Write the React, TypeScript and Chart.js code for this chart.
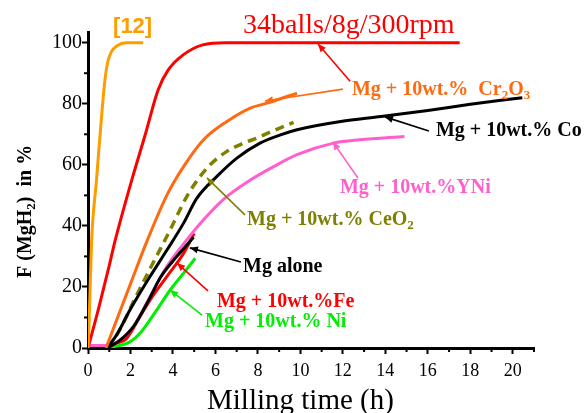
import React, { useEffect, useRef } from 'react';
import { Chart, registerables } from 'chart.js';

Chart.register(...registerables);

// ---------- data ----------
const xTickValues = [0, 2, 4, 6, 8, 10, 12, 14, 16, 18, 20];
const yTickValues = [0, 20, 40, 60, 80, 100];

const ref12X = [0, 0.05, 0.17, 0.4, 0.57, 0.8, 0.94, 1.1, 1.37, 1.8, 2.6];
const ref12Y = [0, 8, 35, 55, 70, 88, 94, 97, 99, 100, 100];

const balls34X = [0, 0.5, 1, 1.27, 2.06, 2.7, 3.3, 3.77, 4.48, 5.4, 6.5, 10, 17.5];
const balls34Y = [0, 13, 27, 35, 55, 70, 84.5, 91, 96, 99.3, 100, 100, 100];

const cr2o3X = [0.85, 1.12, 2, 2.8, 3.71, 4.5, 5.44, 6.54, 7.64, 8.43, 9.84];
const cr2o3Y = [0, 5, 21, 35.4, 50, 59.4, 68.2, 74.2, 78.6, 80.2, 83.5];

const ceo2X = [0.95, 1.5, 2.2, 3.0, 3.87, 4.65, 5.28, 5.75, 6.54, 7.33, 7.96, 8.74, 9.68];
const ceo2Y = [0, 6, 16, 27, 38.7, 49.6, 56.2, 60, 64.4, 67.1, 68.8, 71.2, 73.9];

const coX = [0.9, 1.35, 1.98, 2.92, 3.71, 4.5, 5.12, 6.07, 7.01, 8.1, 9.06, 9.84, 11.9, 13.8, 16, 18, 20.45];
const coY = [0, 4.3, 12.5, 23.4, 32, 40.9, 49, 56.2, 62.2, 67.1, 69.8, 71.5, 74.2, 75.8, 77.8, 79.8, 82];

const yniX = [0, 0.9, 1.51, 2.14, 2.92, 3.71, 4.65, 5.44, 6.38, 7.64, 8.74, 9.84, 11.56, 12.8, 14.9];
const yniY = [0.8, 0.8, 2.6, 7, 16.8, 26.7, 35.4, 42, 48.7, 55, 59.4, 63.3, 67.1, 68.2, 69.3];

const aloneX = [0.9, 1.5, 2.14, 2.92, 3.4, 4.0, 4.5, 4.97];
const aloneY = [0, 2.5, 7, 16.5, 23, 28.5, 32.5, 36.3];

const feX = [0.9, 1.3, 1.8, 2.45, 2.92, 3.71, 4.5, 5.0];
const feY = [0, 1.5, 3, 10.3, 15.7, 23.4, 31, 37.5];

const niX = [0.9, 1.19, 1.98, 2.45, 3.24, 3.87, 4.5, 5.05];
const niY = [0, 0.4, 2, 4.8, 12.5, 19, 24.5, 29.4];

// ---------- styles ----------
const C_REF = '#ff9c00';
const C_RED = '#ff0000';
const C_CR = '#ff6a10';
const C_OLIVE = '#808000';
const C_BLACK = '#000000';
const C_PINK = '#ff5fcc';
const C_GREEN = '#00ee00';

const SERIF = '"Liberation Serif", "Times New Roman", serif';

function pts(xs: number[], ys: number[]) {
  return xs.map((x, i) => ({ x, y: ys[i] }));
}

// Annotation texts (positions in data units: x in h, y in %)
type Part = [string, boolean];
const labels: { parts: Part[]; x: number; y: number; color: string; font: string }[] = [
  { parts: [['[12]', false]], x: 1.18, y: 103.2, color: C_REF, font: 'bold 22px "Liberation Sans", Arial, sans-serif' },
  { parts: [['34balls/8g/300rpm', false]], x: 7.3, y: 103.2, color: C_RED, font: `28px ${SERIF}` },
  { parts: [['Mg + 10wt.%  Cr', false], ['2', true], ['O', false], ['3', true]], x: 12.43, y: 82.9, color: C_CR, font: `bold 20px ${SERIF}` },
  { parts: [['Mg + 10wt.% Co', false]], x: 16.38, y: 69.3, color: C_BLACK, font: `bold 20px ${SERIF}` },
  { parts: [['Mg + 10wt.%YNi', false]], x: 11.86, y: 50.8, color: C_PINK, font: `bold 20px ${SERIF}` },
  { parts: [['Mg + 10wt.% CeO', false], ['2', true]], x: 7.49, y: 40.3, color: C_OLIVE, font: `bold 20px ${SERIF}` },
  { parts: [['Mg alone', false]], x: 7.3, y: 24.9, color: C_BLACK, font: `bold 20px ${SERIF}` },
  { parts: [['Mg + 10wt.%Fe', false]], x: 6.07, y: 13.4, color: C_RED, font: `bold 20px ${SERIF}` },
  { parts: [['Mg + 10wt.% Ni', false]], x: 5.51, y: 6.9, color: C_GREEN, font: `bold 20px ${SERIF}` },
];

const arrows: { from: [number, number]; to: [number, number]; color: string }[] = [
  { from: [12.34, 87.4], to: [10.83, 99.6], color: C_RED },
  { from: [12.0, 84.8], to: [8.33, 80.9], color: C_CR },
  { from: [16.05, 71.1], to: [13.98, 75.7], color: C_BLACK },
  { from: [12.71, 55.7], to: [11.53, 67.5], color: C_PINK },
  { from: [7.39, 43.6], to: [5.6, 55.7], color: C_OLIVE },
  { from: [7.2, 28.2], to: [4.8, 32.8], color: C_BLACK },
  { from: [5.65, 18.7], to: [4.19, 27.8], color: C_RED },
  { from: [5.37, 10.8], to: [3.86, 19.0], color: C_GREEN },
];

const X_TITLE = 'Milling time (h)';
const Y_TITLE: Part[] = [['F (MgH', false], ['2', true], [')  in %', false]];

function drawRich(ctx: CanvasRenderingContext2D, parts: Part[], x: number, y: number, font: string) {
  const m = font.match(/(\d+)px/);
  const size = m ? parseInt(m[1], 10) : 20;
  const subFont = font.replace(/\d+px/, Math.round(size * 0.65) + 'px');
  let cx = x;
  for (const [t, sub] of parts) {
    ctx.font = sub ? subFont : font;
    ctx.fillText(t, cx, sub ? y + size * 0.22 : y);
    cx += ctx.measureText(t).width;
  }
}

const annotPlugin = {
  id: 'annot',
  afterDraw(chart: any) {
    const ctx: CanvasRenderingContext2D = chart.ctx;
    const xs = chart.scales.x;
    const ys = chart.scales.y;
    const area = chart.chartArea;
    ctx.save();
    // minor ticks
    ctx.strokeStyle = '#000';
    ctx.lineWidth = 2;
    for (let v = 1; v <= 21; v += 2) {
      const px = xs.getPixelForValue(v);
      ctx.beginPath();
      ctx.moveTo(px, area.bottom);
      ctx.lineTo(px, area.bottom + 4);
      ctx.stroke();
    }
    for (let v = 10; v <= 90; v += 20) {
      const py = ys.getPixelForValue(v);
      ctx.beginPath();
      ctx.moveTo(area.left, py);
      ctx.lineTo(area.left - 4, py);
      ctx.stroke();
    }
    // arrows
    for (const a of arrows) {
      const x1 = xs.getPixelForValue(a.from[0]);
      const y1 = ys.getPixelForValue(a.from[1]);
      const x2 = xs.getPixelForValue(a.to[0]);
      const y2 = ys.getPixelForValue(a.to[1]);
      ctx.strokeStyle = a.color;
      ctx.fillStyle = a.color;
      ctx.lineWidth = 1.6;
      ctx.beginPath();
      ctx.moveTo(x1, y1);
      ctx.lineTo(x2, y2);
      ctx.stroke();
      const ang = Math.atan2(y2 - y1, x2 - x1);
      const L = 8, W = 3.5;
      ctx.beginPath();
      ctx.moveTo(x2, y2);
      ctx.lineTo(x2 - L * Math.cos(ang) + W * Math.sin(ang), y2 - L * Math.sin(ang) - W * Math.cos(ang));
      ctx.lineTo(x2 - L * Math.cos(ang) - W * Math.sin(ang), y2 - L * Math.sin(ang) + W * Math.cos(ang));
      ctx.closePath();
      ctx.fill();
    }
    // labels
    ctx.textBaseline = 'alphabetic';
    ctx.textAlign = 'left';
    for (const l of labels) {
      ctx.fillStyle = l.color;
      drawRich(ctx, l.parts, xs.getPixelForValue(l.x), ys.getPixelForValue(l.y), l.font);
    }
    // x axis title
    ctx.fillStyle = '#000';
    ctx.font = `29px ${SERIF}`;
    ctx.fillText(X_TITLE, area.left + 119, area.bottom + 61);
    // y axis title (rotated, reads bottom to top)
    ctx.translate(31, area.bottom - 70);
    ctx.rotate(-Math.PI / 2);
    drawRich(ctx, Y_TITLE, 0, 0, `bold 20px ${SERIF}`);
    ctx.restore();
  },
};

export default function App() {
  const ref = useRef<HTMLCanvasElement | null>(null);
  useEffect(() => {
    if (!ref.current) return;
    const ds = (label: string, xs: number[], ys: number[], color: string, extra: any = {}) => ({
      label,
      data: pts(xs, ys),
      borderColor: color,
      backgroundColor: color,
      borderWidth: 3,
      pointRadius: 0,
      cubicInterpolationMode: 'monotone',
      fill: false,
      ...extra,
    });
    const chart = new Chart(ref.current, {
      type: 'line',
      data: {
        datasets: [
          ds('[12]', ref12X, ref12Y, C_REF),
          ds('34balls/8g/300rpm', balls34X, balls34Y, C_RED),
          ds('Mg + 10wt.% Cr2O3', cr2o3X, cr2o3Y, C_CR),
          ds('Mg alone', aloneX, aloneY, C_BLACK, { order: 1 }),
          ds('Mg + 10wt.% Co', coX, coY, C_BLACK, { order: 2 }),
          ds('Mg + 10wt.% CeO2', ceo2X, ceo2Y, C_OLIVE, { borderDash: [9, 6], borderWidth: 3.5, order: 3 }),
          ds('Mg + 10wt.%YNi', yniX, yniY, C_PINK, { order: 4 }),
          ds('Mg + 10wt.%Fe', feX, feY, C_RED, { order: 5 }),
          ds('Mg + 10wt.% Ni', niX, niY, C_GREEN, { order: 6 }),
        ],
      },
      options: {
        responsive: false,
        animation: false,
        devicePixelRatio: 1,
        parsing: false as any,
        layout: { padding: { left: 0, right: 54, top: 32, bottom: 0 } },
        plugins: { legend: { display: false }, tooltip: { enabled: false } },
        scales: {
          x: {
            type: 'linear',
            min: 0,
            max: 21,
            afterFit: (s: any) => { s.height = 65; },
            afterBuildTicks: (s: any) => { s.ticks = xTickValues.map((v) => ({ value: v })); },
            ticks: {
              autoSkip: false,
              maxRotation: 0,
              padding: 6,
              color: '#000',
              font: { family: SERIF, size: 18 },
              callback: (v: any) => String(v),
            },
            grid: { display: true, drawOnChartArea: false, drawTicks: true, tickLength: 6, tickWidth: 2, tickColor: '#000' },
            border: { display: true, width: 3, color: '#000' },
          },
          y: {
            type: 'linear',
            min: 0,
            max: 103.5,
            afterFit: (s: any) => { s.width = 88; },
            afterBuildTicks: (s: any) => { s.ticks = yTickValues.map((v) => ({ value: v })); },
            ticks: {
              autoSkip: false,
              padding: 0,
              color: '#000',
              font: { family: SERIF, size: 20 },
              callback: (v: any) => String(v),
            },
            grid: { display: true, drawOnChartArea: false, drawTicks: true, tickLength: 6, tickWidth: 2, tickColor: '#000' },
            border: { display: true, width: 3, color: '#000' },
          },
        },
      },
      plugins: [annotPlugin],
    } as any);
    return () => chart.destroy();
  }, []);
  return (
    <div style={{ position: 'fixed', left: 0, top: 0, width: 588, height: 413, background: '#fff' }}>
      <canvas ref={ref} width={588} height={413} style={{ display: 'block', width: 588, height: 413 }} />
    </div>
  );
}
